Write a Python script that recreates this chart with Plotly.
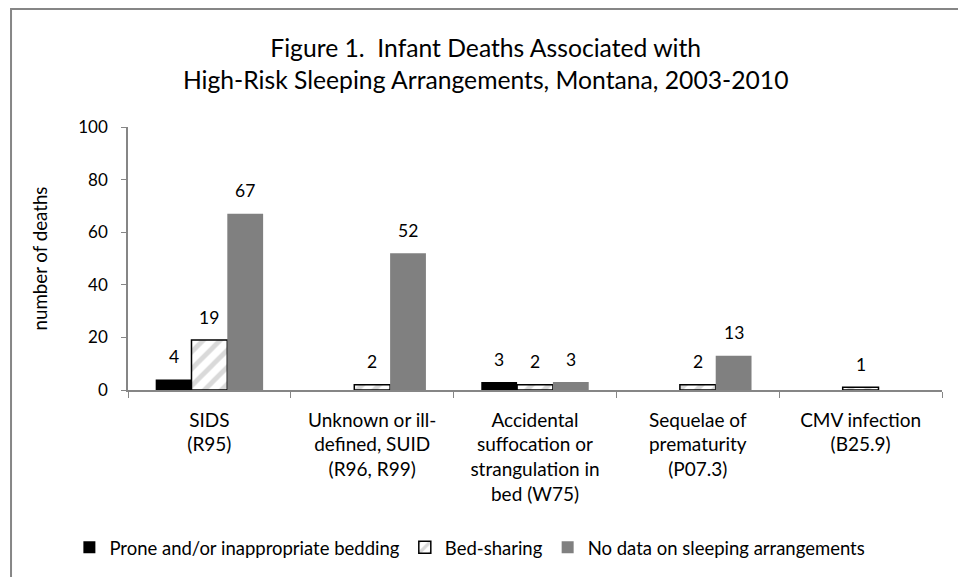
import plotly.graph_objects as go

categories = ["SIDS<br>(R95)",
              "Unknown or ill-<br>defined, SUID<br>(R96, R99)",
              "Accidental<br>suffocation or<br>strangulation in<br>bed (W75)",
              "Sequelae of<br>prematurity<br>(P07.3)",
              "CMV infection<br>(B25.9)"]
prone = [4, 0, 3, 0, 0]
bed_sharing = [19, 2, 2, 2, 1]
no_data = [67, 52, 3, 13, 0]
y_ticks = [0, 20, 40, 60, 80, 100]

FONT = "Lato, Carlito, Calibri, sans-serif"

W, H = 958, 577
ML, MR, MT, MB = 128, 16, 127, 187
BARGAP = 0.34

series = [
    ("Prone and/or inappropriate bedding", prone,
     dict(color="#000000", line=dict(width=0))),
    ("Bed-sharing", bed_sharing,
     dict(color="#ffffff", line=dict(color="#000000", width=1.5),
          pattern=dict(shape="/", fgcolor="#b3b3b3", bgcolor="#ffffff",
                       size=12, solidity=0.4))),
    ("No data on sleeping arrangements", no_data,
     dict(color="#808080", line=dict(width=0))),
]

fig = go.Figure()
for name, vals, marker in series:
    fig.add_trace(go.Bar(name=name, x=categories, y=vals, marker=marker,
                         hoverinfo="x+y+name"))

# value labels above bars (skip zero values), offset to each bar in the group
cat_px = (W - ML - MR) / len(categories)
bar_px = cat_px * (1 - BARGAP) / len(series)
n = len(series)
for i, (name, vals, marker) in enumerate(series):
    shift = (i - (n - 1) / 2) * bar_px
    for c, v in zip(categories, vals):
        if v > 0:
            fig.add_annotation(x=c, y=v, text=str(v), showarrow=False,
                               xshift=shift, yshift=23, yanchor="middle",
                               font=dict(family=FONT, size=17.5, color="#000000"))

fig.update_layout(
    width=W, height=H,
    margin=dict(l=ML, r=MR, t=MT, b=MB, autoexpand=False),
    paper_bgcolor="#ffffff", plot_bgcolor="#ffffff",
    font=dict(family=FONT, size=17, color="#000000"),
    barmode="group", bargap=BARGAP, bargroupgap=0,
    title=dict(text="Figure 1.  Infant Deaths Associated with<br>High-Risk Sleeping Arrangements, Montana, 2003-2010",
               x=0.507, xanchor="center", y=0.902, yanchor="middle",
               font=dict(family=FONT, size=24.7, color="#000000")),
    showlegend=True,
    legend=dict(orientation="h", x=0.42, xanchor="center", y=-0.6, yanchor="middle",
                font=dict(family=FONT, size=18.5), traceorder="normal",
                itemwidth=30, bgcolor="rgba(0,0,0,0)"),
    xaxis=dict(showline=True, linecolor="#868686", linewidth=1.5, automargin=False,
               ticks="outside", tickson="boundaries", ticklen=6, tickcolor="#868686",
               ticklabelstandoff=12,
               tickfont=dict(family=FONT, size=19), showgrid=False),
    yaxis=dict(range=[0, 100], tickvals=y_ticks, showline=True, linecolor="#868686",
               linewidth=1.5, ticks="outside", ticklen=5, tickcolor="#868686",
               showgrid=False, zeroline=False, automargin=False,
               ticklabelstandoff=10,
               tickfont=dict(family=FONT, size=17),
               title=dict(text="number of deaths", font=dict(family=FONT, size=18.7), standoff=26)),
    shapes=[dict(type="rect", xref="paper", yref="paper",
                 x0=-0.1437, x1=1.2, y0=-1.0, y1=1.4487,
                 line=dict(color="#868686", width=2), fillcolor="rgba(0,0,0,0)", layer="below")],
)

fig.write_html("out.html", config={"displayModeBar": False},
               post_script="document.body.style.margin='0';")
